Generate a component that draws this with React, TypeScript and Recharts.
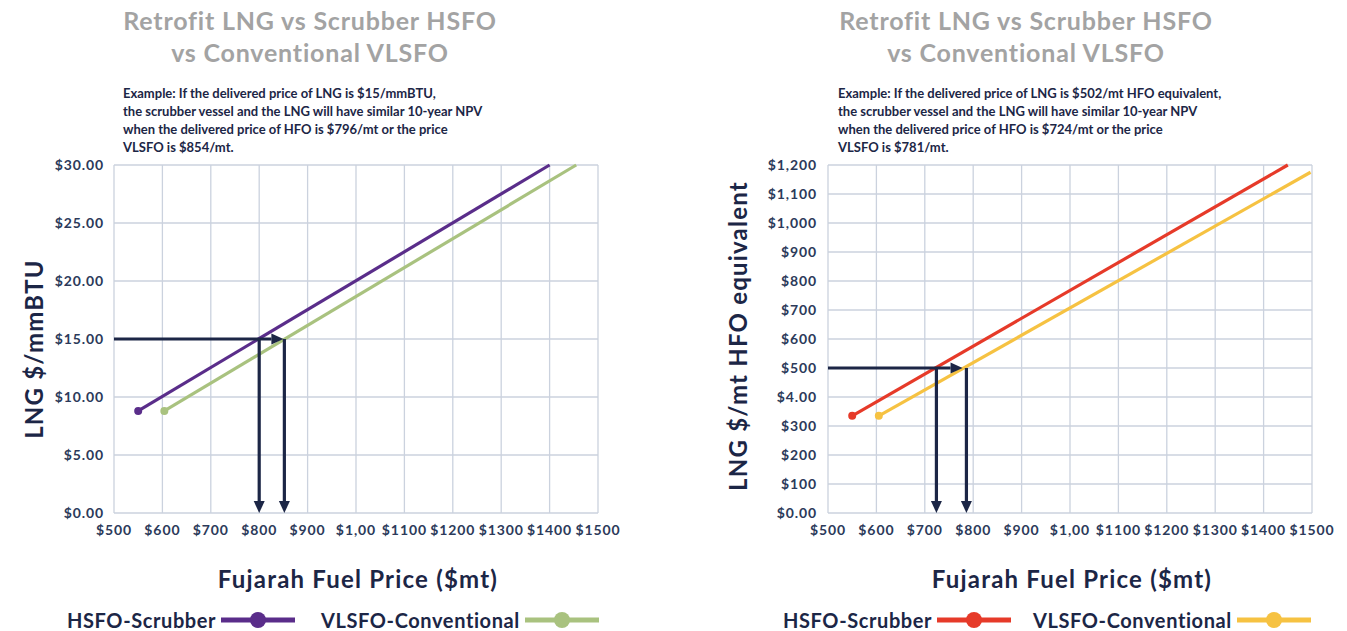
import React from "react"
import { LineChart, Line, XAxis, YAxis, CartesianGrid, ReferenceLine } from "recharts"

// shared x axis
const fuelTicks = [500, 600, 700, 800, 900, 1000, 1100, 1200, 1300, 1400, 1500]
const fuelTickLabels = ["$500", "$600", "$700", "$800", "$900", "$1,00", "$1100", "$1200", "$1300", "$1400", "$1500"]

// left chart ($/mmBTU)
const btuTicks = [0, 5, 10, 15, 20, 25, 30]
const btuTickLabels = ["$0.00", "$5.00", "$10.00", "$15.00", "$20.00", "$25.00", "$30.00"]
const btuHsfoFuel = [550, 1400]
const btuHsfoLng = [8.8, 30]
const btuVlsfoFuel = [604, 1455]
const btuVlsfoLng = [8.8, 30]
const btuExampleLng = 15
const btuExampleEnd = 850
const btuExampleDrops = [800, 852]

// right chart ($/mt HFO equivalent)
const mtTicks = [0, 100, 200, 300, 400, 500, 600, 700, 800, 900, 1000, 1100, 1200]
const mtTickLabels = ["$0.00", "$100", "$200", "$300", "$4.00", "$500", "$600", "$700", "$800", "$900", "$1,000", "$1,100", "$1,200"]
const mtHsfoFuel = [550, 1450]
const mtHsfoLng = [335, 1200]
const mtVlsfoFuel = [605, 1497]
const mtVlsfoLng = [335, 1175]
const mtExampleLng = 500
const mtExampleEnd = 778
const mtExampleDrops = [724, 786]

const NAVY = "#1c2646"
const GRID = "#cbd2de"
const FONT = "Lato, 'Open Sans', sans-serif"

const toPoints = (xs: number[], ys: number[]) => xs.map((x, i) => ({ x, y: ys[i] }))

function Arrow(props: any) {
  const { x1, y1, x2, y2 } = props
  const dx = x2 - x1
  const dy = y2 - y1
  const len = Math.sqrt(dx * dx + dy * dy) || 1
  const ux = dx / len
  const uy = dy / len
  const head = 12
  const half = 5.5
  const bx = x2 - ux * head
  const by = y2 - uy * head
  return (
    <g>
      <line x1={x1} y1={y1} x2={bx} y2={by} stroke={NAVY} strokeWidth={3.2} />
      <polygon
        points={`${x2},${y2} ${bx - uy * half},${by + ux * half} ${bx + uy * half},${by - ux * half}`}
        fill={NAVY}
      />
    </g>
  )
}

function firstDot(color: string) {
  return (p: any) =>
    p.index === 0 ? (
      <circle key={`d-${p.index}`} cx={p.cx} cy={p.cy} r={4} fill={color} stroke="none" />
    ) : (
      <g key={`d-${p.index}`} />
    )
}

const tickStyle = { fill: "#2c3a5a", fontSize: 14, fontWeight: 700, fontFamily: FONT, letterSpacing: 0.9 }

type PanelProps = {
  left: number
  width: number
  marginLeft: number
  marginRight: number
  tickMargin: number
  yTicks: number[]
  yLabels: string[]
  hsfo: { x: number; y: number }[]
  vlsfo: { x: number; y: number }[]
  hsfoColor: string
  vlsfoColor: string
  exY: number
  exEnd: number
  drops: number[]
}

function Panel(p: PanelProps) {
  const yMax = p.yTicks[p.yTicks.length - 1]
  return (
    <div style={{ position: "absolute", left: p.left, top: 0 }}>
      <LineChart
        width={p.width}
        height={631}
        margin={{ top: 165, right: p.marginRight, bottom: 88, left: p.marginLeft }}
      >
        <CartesianGrid stroke={GRID} strokeWidth={1.3} />
        <XAxis
          type="number"
          dataKey="x"
          domain={[500, 1500]}
          ticks={fuelTicks}
          interval={0}
          tickFormatter={(v: number) => fuelTickLabels[fuelTicks.indexOf(v)]}
          axisLine={false}
          tickLine={false}
          tickMargin={6}
          height={30}
          tick={tickStyle}
        />
        <YAxis
          type="number"
          domain={[0, yMax]}
          ticks={p.yTicks}
          interval={0}
          tickFormatter={(v: number) => p.yLabels[p.yTicks.indexOf(v)]}
          axisLine={false}
          tickLine={false}
          tickMargin={p.tickMargin}
          width={60}
          tick={tickStyle}
        />
        <Line
          data={p.hsfo}
          dataKey="y"
          stroke={p.hsfoColor}
          strokeWidth={3.2}
          dot={firstDot(p.hsfoColor)}
          activeDot={false}
          isAnimationActive={false}
        />
        <Line
          data={p.vlsfo}
          dataKey="y"
          stroke={p.vlsfoColor}
          strokeWidth={3.2}
          dot={firstDot(p.vlsfoColor)}
          activeDot={false}
          isAnimationActive={false}
        />
        <ReferenceLine
          segment={[{ x: 500, y: p.exY }, { x: p.exEnd, y: p.exY }]}
          shape={Arrow}
          ifOverflow="visible"
        />
        {p.drops.map((d) => (
          <ReferenceLine
            key={d}
            segment={[{ x: d, y: p.exY }, { x: d, y: 0 }]}
            shape={Arrow}
            ifOverflow="visible"
          />
        ))}
      </LineChart>
    </div>
  )
}

const titleStyle: React.CSSProperties = {
  position: "absolute",
  width: 500,
  textAlign: "center",
  color: "#a3a3a3",
  fontSize: 25,
  fontWeight: 700,
  letterSpacing: 0.8,
  lineHeight: "32px",
  fontFamily: FONT,
}

const noteStyle: React.CSSProperties = {
  position: "absolute",
  color: NAVY,
  fontSize: 13,
  fontWeight: 700,
  lineHeight: "18px",
  fontFamily: FONT,
  whiteSpace: "pre",
}

const axisTitle: React.CSSProperties = {
  position: "absolute",
  color: NAVY,
  fontSize: 24,
  fontWeight: 700,
  letterSpacing: 1.2,
  fontFamily: FONT,
  whiteSpace: "nowrap",
}

function VerticalLabel({ cx, cy, text }: { cx: number; cy: number; text: string }) {
  return (
    <div
      style={{
        ...axisTitle,
        left: cx,
        top: cy,
        transform: "translate(-50%, -50%) rotate(-90deg)",
      }}
    >
      {text}
    </div>
  )
}

function LegendItem({ x, text, color }: { x: number; text: string; color: string }) {
  return (
    <div style={{ position: "absolute", left: x, top: 607, display: "flex", alignItems: "center" }}>
      <span style={{ color: NAVY, fontSize: 20, fontWeight: 700, letterSpacing: 0.6, fontFamily: FONT }}>{text}</span>
      <svg width={80} height={26} style={{ marginLeft: 3 }}>
        <line x1={2} y1={13} x2={76} y2={13} stroke={color} strokeWidth={5} />
        <circle cx={39} cy={13} r={8} fill={color} />
      </svg>
    </div>
  )
}

export default function App() {
  return (
    <div style={{ position: "absolute", left: 0, top: 0, width: 1347, height: 631, background: "#fff", fontFamily: FONT }}>
      <div style={{ ...titleStyle, left: 60, top: 4 }}>
        Retrofit LNG vs Scrubber HSFO
        <br />
        vs Conventional VLSFO
      </div>
      <div style={{ ...titleStyle, left: 776, top: 4 }}>
        Retrofit LNG vs Scrubber HSFO
        <br />
        vs Conventional VLSFO
      </div>
      <div style={{ ...noteStyle, left: 123, top: 84 }}>
        {"Example: If the delivered price of LNG is $15/mmBTU,\nthe scrubber vessel and the LNG will have similar 10-year NPV\nwhen the delivered price of HFO is $796/mt or the price\nVLSFO is $854/mt."}
      </div>
      <div style={{ ...noteStyle, left: 838, top: 84 }}>
        {"Example: If the delivered price of LNG is $502/mt HFO equivalent,\nthe scrubber vessel and the LNG will have similar 10-year NPV\nwhen the delivered price of HFO is $724/mt or the price\nVLSFO is $781/mt."}
      </div>

      <Panel
        left={0}
        width={660}
        marginLeft={54}
        marginRight={62}
        tickMargin={4}
        yTicks={btuTicks}
        yLabels={btuTickLabels}
        hsfo={toPoints(btuHsfoFuel, btuHsfoLng)}
        vlsfo={toPoints(btuVlsfoFuel, btuVlsfoLng)}
        hsfoColor="#5a2d8a"
        vlsfoColor="#a9c27f"
        exY={btuExampleLng}
        exEnd={btuExampleEnd}
        drops={btuExampleDrops}
      />
      <Panel
        left={690}
        width={657}
        marginLeft={78}
        marginRight={35}
        tickMargin={5}
        yTicks={mtTicks}
        yLabels={mtTickLabels}
        hsfo={toPoints(mtHsfoFuel, mtHsfoLng)}
        vlsfo={toPoints(mtVlsfoFuel, mtVlsfoLng)}
        hsfoColor="#e63a29"
        vlsfoColor="#f6c242"
        exY={mtExampleLng}
        exEnd={mtExampleEnd}
        drops={mtExampleDrops}
      />

      <VerticalLabel cx={33} cy={349} text="LNG $/mmBTU" />
      <VerticalLabel cx={737} cy={336} text="LNG $/mt HFO equivalent" />
      <div style={{ ...axisTitle, left: 358, top: 578, transform: "translate(-50%, -50%)" }}>Fujarah Fuel Price ($mt)</div>
      <div style={{ ...axisTitle, left: 1072, top: 578, transform: "translate(-50%, -50%)" }}>Fujarah Fuel Price ($mt)</div>

      <LegendItem x={67} text="HSFO-Scrubber" color="#5a2d8a" />
      <LegendItem x={321} text="VLSFO-Conventional" color="#a9c27f" />
      <LegendItem x={783} text="HSFO-Scrubber" color="#e63a29" />
      <LegendItem x={1033} text="VLSFO-Conventional" color="#f6c242" />
    </div>
  )
}
